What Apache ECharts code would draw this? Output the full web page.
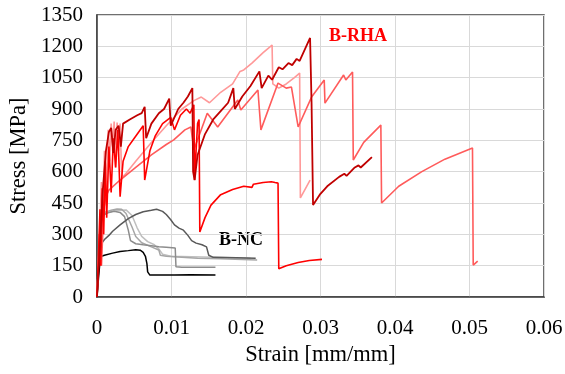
<!DOCTYPE html>
<html><head><meta charset="utf-8">
<script src="https://cdn.jsdelivr.net/npm/echarts@6/dist/echarts.min.js"></script>
<style>html,body{margin:0;padding:0;background:#fff}#c{width:565px;height:374px}</style>
</head><body><div id="c"></div>
<script>
// Tick labels
var xTicks = [0, 0.01, 0.02, 0.03, 0.04, 0.05, 0.06];
var yTicks = [0, 150, 300, 450, 600, 750, 900, 1050, 1200, 1350];

// B-RHA specimens: [strain, stress]
var rhaDark = [[0,0],[0.0004,250],[0.0008,520],[0.0012,700],[0.0016,790],[0.0019,810],[0.0022,690],[0.0025,800],[0.0029,820],[0.0032,720],[0.0035,830],[0.0044,850],[0.0054,870],[0.0060,880],[0.0064,910],[0.0066,760],[0.0073,830],[0.0083,880],[0.0090,900],[0.0097,950],[0.0099,820],[0.0109,900],[0.0116,930],[0.0122,960],[0.0128,1000],[0.0129,600],[0.0131,560],[0.0135,680],[0.0145,780],[0.0156,850],[0.0166,890],[0.0176,930],[0.0183,1000],[0.0185,900],[0.0195,960],[0.0206,1010],[0.0218,1080],[0.0221,1000],[0.0230,1060],[0.0235,1040],[0.0244,1100],[0.0249,1090],[0.0257,1120],[0.0262,1110],[0.0268,1140],[0.0272,1130],[0.0286,1240],[0.0288,930],[0.0289,925],[0.0290,440],[0.0299,490],[0.0309,530],[0.0325,575],[0.0332,590],[0.0335,580],[0.0346,620],[0.0351,630],[0.0354,620],[0.0369,670]];
var rhaRed = [[0,0],[0.0002,200],[0.0004,420],[0.0005,150],[0.0007,520],[0.0009,300],[0.0011,650],[0.0013,380],[0.0016,720],[0.0019,500],[0.0022,760],[0.0025,620],[0.0028,800],[0.0031,480],[0.0035,650],[0.0042,720],[0.0050,760],[0.0056,790],[0.0062,820],[0.0064,560],[0.0071,700],[0.0078,770],[0.0088,830],[0.0099,860],[0.0104,800],[0.0112,870],[0.0120,900],[0.0125,880],[0.0130,920],[0.0131,560],[0.0133,700],[0.0135,830],[0.0137,850],[0.0138,311],[0.0145,380],[0.0153,440],[0.0166,490],[0.0182,515],[0.0197,530],[0.0208,525],[0.0210,540],[0.0223,548],[0.0234,552],[0.0239,548],[0.0243,545],[0.0244,135],[0.0254,150],[0.0270,165],[0.0285,175],[0.0302,180]];
var rhaSalmon = [[0,0],[0.0003,300],[0.0006,150],[0.0009,420],[0.0012,480],[0.0016,512],[0.0031,560],[0.0052,620],[0.0073,680],[0.0093,730],[0.0103,752],[0.0118,800],[0.0126,814],[0.0130,704],[0.0148,880],[0.0162,814],[0.0189,943],[0.0193,895],[0.0216,991],[0.0220,800],[0.0243,1024],[0.0254,1000],[0.0261,1005],[0.0270,814],[0.0288,957],[0.0305,1039],[0.0306,928],[0.0331,1063],[0.0334,1039],[0.0343,1077],[0.0344,656],[0.0358,740],[0.0381,823],[0.0382,450],[0.0405,530],[0.0436,600],[0.0467,660],[0.0504,713],[0.0505,153],[0.0511,172]];
var rhaPink = [[0,0],[0.0003,250],[0.0006,550],[0.0008,300],[0.0010,700],[0.0012,500],[0.0015,800],[0.0017,650],[0.0019,830],[0.0021,700],[0.0023,840],[0.0025,620],[0.0027,835],[0.0029,700],[0.0031,830],[0.0033,600],[0.0035,574],[0.0052,650],[0.0073,740],[0.0093,820],[0.0114,900],[0.0130,940],[0.0140,957],[0.0151,930],[0.0166,980],[0.0182,1020],[0.0192,1080],[0.0197,1087],[0.0208,1120],[0.0223,1170],[0.0235,1206],[0.0236,1020],[0.0244,1000],[0.0254,1020],[0.0265,1050],[0.0272,1072],[0.0273,474],[0.0280,520],[0.0286,560]];

// B-NC specimens: [strain, stress]
var ncBlack = [[0,0],[0.0002,90],[0.0004,170],[0.0006,195],[0.0010,200],[0.0021,210],[0.0031,218],[0.0042,222],[0.0052,226],[0.0058,224],[0.0062,214],[0.0065,195],[0.0067,160],[0.0068,120],[0.0071,105],[0.0104,105],[0.0125,106],[0.0159,105]];
var ncDark = [[0,0],[0.0002,120],[0.0004,220],[0.0007,260],[0.0010,275],[0.0016,295],[0.0021,315],[0.0031,345],[0.0042,375],[0.0052,395],[0.0062,408],[0.0073,415],[0.0080,420],[0.0088,410],[0.0093,395],[0.0099,370],[0.0104,345],[0.0110,330],[0.0116,320],[0.0122,295],[0.0127,270],[0.0133,258],[0.0141,250],[0.0147,240],[0.0150,200],[0.0156,190],[0.0187,188],[0.0213,185]];
var ncMid = [[0,0],[0.0002,150],[0.0004,300],[0.0006,370],[0.0010,395],[0.0016,405],[0.0023,410],[0.0031,405],[0.0037,385],[0.0042,320],[0.0045,270],[0.0052,255],[0.0062,250],[0.0073,245],[0.0083,240],[0.0093,238],[0.0105,235],[0.0106,145],[0.0114,143],[0.0159,143]];
var ncLight = [[0,0],[0.0002,180],[0.0004,320],[0.0006,390],[0.0010,405],[0.0019,415],[0.0027,421],[0.0033,420],[0.0039,400],[0.0047,335],[0.0052,290],[0.0060,260],[0.0073,240],[0.0083,225],[0.0085,200],[0.0093,195],[0.0135,185],[0.0166,183],[0.0215,177]];
var ncLighter = [[0,0],[0.0003,250],[0.0006,380],[0.0010,400],[0.0021,410],[0.0031,415],[0.0039,417],[0.0047,390],[0.0054,330],[0.0060,290],[0.0068,265],[0.0077,250],[0.0083,230],[0.0088,205],[0.0099,195],[0.0156,190],[0.0206,186]];

var serif = 'Liberation Serif, Times New Roman, serif';
function line(data, color, w) {
  return {type:'line', data:data, showSymbol:false, symbol:'none', lineStyle:{color:color, width:w}, itemStyle:{color:color}, animation:false};
}
var chart = echarts.init(document.getElementById('c'), null, {renderer:'canvas'});
chart.setOption({
  animation:false,
  grid:{left:97, right:21, top:15, bottom:77, outerBoundsMode:'none', containLabel:false, show:true, borderColor:'#404040', borderWidth:1.5, backgroundColor:'transparent'},
  xAxis:{type:'value', min:0, max:0.06, interval:0.01,
    name:'Strain [mm/mm]', nameLocation:'middle', nameGap:44,
    nameTextStyle:{fontFamily:serif, fontSize:22.5, color:'#000'},
    axisLine:{show:true, lineStyle:{color:'#404040', width:1.5}},
    axisTick:{show:false},
    axisLabel:{fontFamily:serif, fontSize:21, color:'#000', margin:21,
      formatter:function(v){ var i = xTicks.indexOf(Math.round(v*100)/100); return i===0?'0':xTicks[i].toFixed(2);} },
    splitLine:{show:true, lineStyle:{color:'#D9D9D9', width:1}}},
  yAxis:{type:'value', min:0, max:1350, interval:150,
    name:'Stress [MPa]', nameLocation:'middle', nameGap:61, nameRotate:90,
    nameTextStyle:{fontFamily:serif, fontSize:22.5, color:'#000'},
    axisLine:{show:true, lineStyle:{color:'#404040', width:1.5}},
    axisTick:{show:false},
    axisLabel:{fontFamily:serif, fontSize:21, color:'#000', margin:14,
      formatter:function(v){ return String(yTicks[yTicks.indexOf(Math.round(v))]); }},
    splitLine:{show:true, lineStyle:{color:'#D9D9D9', width:1}}},
  graphic:[
    {type:'text', left:329, top:27, style:{text:'B-RHA', fill:'#FF0000', font:'bold 18px ' + serif}},
    {type:'text', left:219, top:231, style:{text:'B-NC', fill:'#000', font:'bold 18px ' + serif}}
  ],
  series:[
    line(ncLighter, '#BFBFBF', 1.5),
    line(ncLight, '#A6A6A6', 1.5),
    line(ncMid, '#8C8C8C', 1.5),
    line(ncDark, '#595959', 1.5),
    line(ncBlack, '#000000', 1.5),
    line(rhaPink, '#FF9999', 1.6),
    line(rhaSalmon, '#FF5B5B', 1.6),
    line(rhaRed, '#FF0000', 1.6),
    line(rhaDark, '#C00000', 1.8)
  ]
});
</script></body></html>
